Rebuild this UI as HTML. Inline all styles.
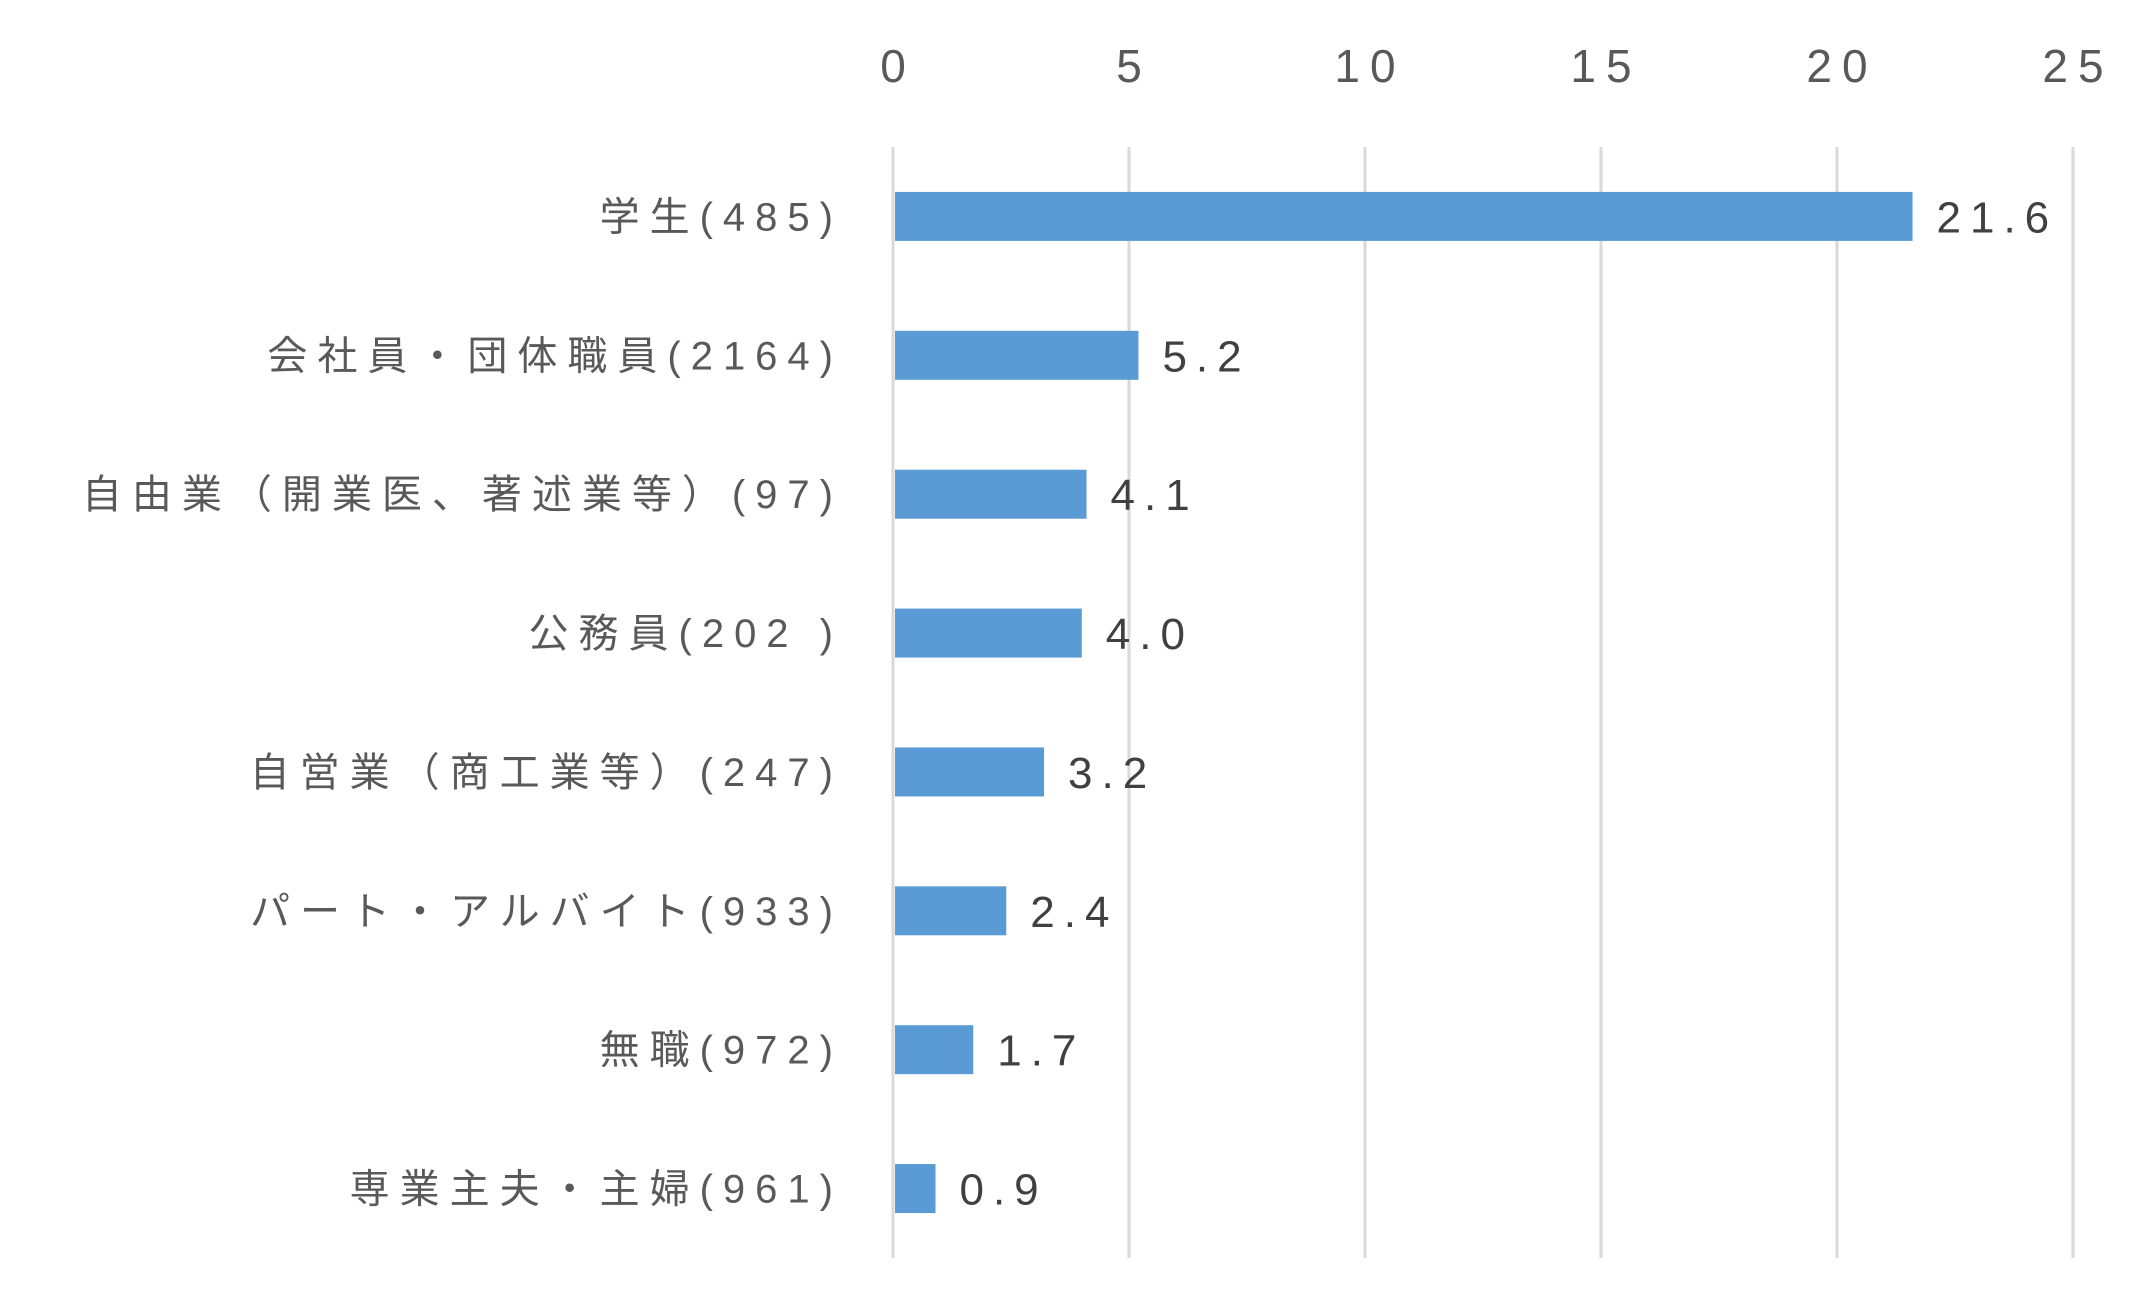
<!DOCTYPE html>
<html><head><meta charset="utf-8"><style>
html,body{margin:0;padding:0;background:#fff;}
svg text{font-family:"Liberation Sans","Noto Sans CJK JP",sans-serif;}
</style></head><body>
<svg id="chart" width="2149" height="1309" xmlns="http://www.w3.org/2000/svg"></svg>
<script>
const categories = ["学生(485)","会社員・団体職員(2164)","自由業（開業医、著述業等）(97)","公務員(202 )","自営業（商工業等）(247)","パート・アルバイト(933)","無職(972)","専業主夫・主婦(961)"];
const values = [21.6,5.2,4.1,4.0,3.2,2.4,1.7,0.9];
const valueLabels = ["21.6","5.2","4.1","4.0","3.2","2.4","1.7","0.9"];
const ticks = [0,5,10,15,20,25];

const chartSvg = document.getElementById('chart');
const SVGNS = 'http://www.w3.org/2000/svg';
const plotX0 = 893, plotUnit = 47.2, plotTop = 147, plotBottom = 1258;
const bandH = (plotBottom - plotTop) / categories.length;
function xScale(v){ return plotX0 + v * plotUnit; }
function yCenter(i){ return plotTop + bandH * (i + 0.5); }
function mk(tag, attrs){ const e = document.createElementNS(SVGNS, tag); for (const k in attrs) e.setAttribute(k, attrs[k]); chartSvg.appendChild(e); return e; }

ticks.forEach(t => {
  const g = mk('line', {x1: xScale(t), x2: xScale(t), y1: plotTop, y2: plotBottom, stroke: '#d9d9d9', 'stroke-width': 3});
  
  
  const tx = mk('text', {x: xScale(t) + 5, y: 82, 'text-anchor': 'middle', 'font-size': 46, fill: '#595959', 'letter-spacing': 10});
  tx.textContent = String(t);
  
  
});

categories.forEach((c, i) => {
  const cy = yCenter(i);
  const h = 49;
  const r = mk('rect', {x: xScale(0) + 2, y: cy - h / 2, width: Math.max(0, xScale(values[i]) - xScale(0) - 2), height: h, fill: '#5b9bd5'});
  
  
  const l = mk('text', {x: 843, y: cy + 14, 'text-anchor': 'end', 'font-size': 40, fill: '#595959', 'letter-spacing': 10});
  l.textContent = c;
  
  
  const v = mk('text', {x: xScale(values[i]) + 24, y: cy + 16, 'font-size': 44, fill: '#404040', 'letter-spacing': 9});
  v.textContent = valueLabels[i];
  
  
});
</script>
</body></html>
